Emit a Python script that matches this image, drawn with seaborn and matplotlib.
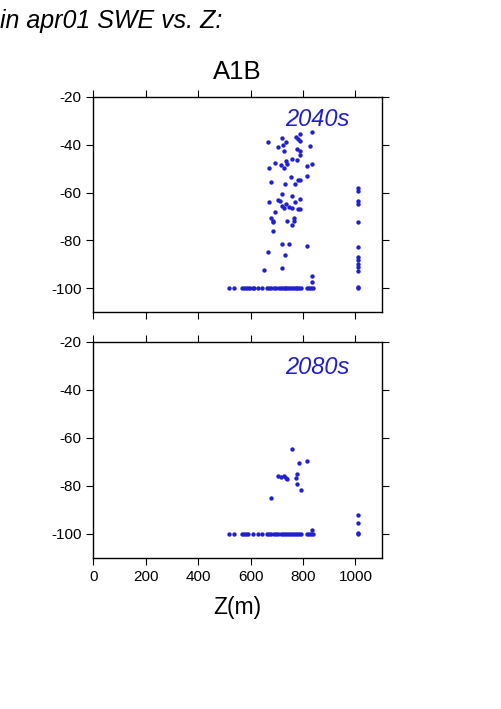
import matplotlib
matplotlib.use("Agg")
import matplotlib.pyplot as plt
import seaborn as sns
import pandas as pd

# ---- data ----
# 2040s scatter (non -100 points)
z_2040 = [666, 719.5, 705.6, 723, 733.5, 727, 771.6, 789, 781.7, 789, 836, 827, 776.6, 789, 789,
          694, 714, 728, 736, 740, 757.6, 776.6, 836, 816, 670,
          678, 730, 754, 770, 780, 789, 816,
          721, 757.6, 669, 705.6, 713, 721, 728, 736, 745, 757.6, 770, 780, 790, 789,
          693, 678, 684, 685, 740, 765, 765, 757.6, 685,
          719.5, 745, 815, 665, 730, 719.5, 651, 836, 836,
          1008, 1008, 1008, 1008, 1008, 1008, 1008, 1008, 1008, 1008, 1008, 1008]
d_2040 = [-39.1, -37.1, -40.9, -40.1, -39.1, -42.5, -36.8, -35.4, -37.7, -38.3, -34.8, -40.4, -41.9, -42.5, -44.4,
          -47.7, -48.7, -49.7, -46.9, -47.9, -46.2, -46.3, -48.0, -49.0, -49.7,
          -55.4, -56.3, -53.6, -56.6, -54.9, -54.7, -53.3,
          -60.6, -61.5, -64.0, -63.1, -63.5, -65.5, -66.4, -64.6, -66.0, -66.3, -64.1, -66.7, -62.7, -66.9,
          -68.0, -70.6, -71.7, -72.3, -72.0, -70.7, -71.9, -73.4, -76.0,
          -81.3, -81.3, -82.4, -85.0, -86.0, -91.7, -92.2, -94.9, -97.4,
          -58.0, -59.3, -63.7, -64.6, -72.4, -82.8, -86.8, -88.1, -90.0, -91.1, -92.8, -99.6]
z_2040_floor = [518, 537, 566, 574, 581, 589, 596, 609, 614, 627, 642, 662, 670, 678, 688, 695,
                708, 716, 723, 730, 736, 742, 749, 756, 764, 772, 778, 784, 792, 815, 822, 832, 839, 1008]

# 2080s scatter
z_2080 = [756, 815, 785.5, 705.6, 714, 728, 733.5, 737, 771.6, 776.6, 776.6, 790.6, 678,
          1008, 1008, 1008, 836]
d_2080 = [-64.7, -69.7, -70.5, -75.9, -76.3, -76.1, -76.8, -77.2, -76.8, -75.0, -79.4, -82.0, -85.0,
          -92.2, -95.5, -99.6, -98.5]
z_2080_floor = [518, 537, 566, 574, 581, 589, 609, 627, 645, 662, 670, 678, 688, 695, 705, 716,
                723, 731, 739, 746, 754, 761, 769, 776, 784, 793, 815, 822, 832, 839, 1008]

FLOOR = -100
periods = ["2040s", "2080s"]
x_ticks = [0, 200, 400, 600, 800, 1000]
y_ticks = [-20, -40, -60, -80, -100]

df40 = pd.DataFrame({"Z": z_2040 + z_2040_floor,
                     "dSWE": d_2040 + [FLOOR] * len(z_2040_floor)})
df80 = pd.DataFrame({"Z": z_2080 + z_2080_floor,
                     "dSWE": d_2080 + [FLOOR] * len(z_2080_floor)})

# ---- style ----
sns.set_style("ticks")
plt.rcParams["font.family"] = ["Liberation Sans", "DejaVu Sans"]
plt.rcParams["axes.unicode_minus"] = False
plt.rcParams["text.color"] = "black"
plt.rcParams["axes.labelcolor"] = "black"

fig = plt.figure(figsize=(5.01, 7.09), dpi=100)
dot = "#2020d0"
txt = "#2020c8"

ax1 = fig.add_axes([0.1862, 0.5595, 0.5757, 0.3041])
ax2 = fig.add_axes([0.1862, 0.2134, 0.5757, 0.3047])

for ax, df, per, ytxt in [(ax1, df40, periods[0], 0.895), (ax2, df80, periods[1], 0.88)]:
    sns.scatterplot(data=df, x="Z", y="dSWE", ax=ax, color=dot, s=10, linewidth=0,
                    legend=False)
    ax.set_xlim(0, 1100)
    ax.set_ylim(-110, -20)
    ax.set_xticks(x_ticks)
    ax.set_yticks(y_ticks)
    ax.tick_params(axis="both", which="both", direction="out", length=5, width=0.8,
                   top=True, right=True, labelsize=11, color="black", labelcolor="black")
    for sp in ax.spines.values():
        sp.set_visible(True)
        sp.set_linewidth(1.0)
        sp.set_color("black")
    ax.set_ylabel("")
    ax.set_xlabel("")
    ax.text(0.887, ytxt, per, transform=ax.transAxes, ha="right", va="center",
            fontsize=17, style="italic", color=txt)

ax1.tick_params(labelbottom=False)
ax2.set_xlabel("Z(m)", fontsize=16.5, labelpad=9, color="black")

fig.text(0.473, 0.898, "A1B", ha="center", va="center", fontsize=18.5, color="black")
fig.text(0.0, 0.971, "in apr01 SWE vs. Z:", ha="left", va="center", fontsize=18,
         style="italic", color="black")

fig.savefig("out.png", dpi=100)
